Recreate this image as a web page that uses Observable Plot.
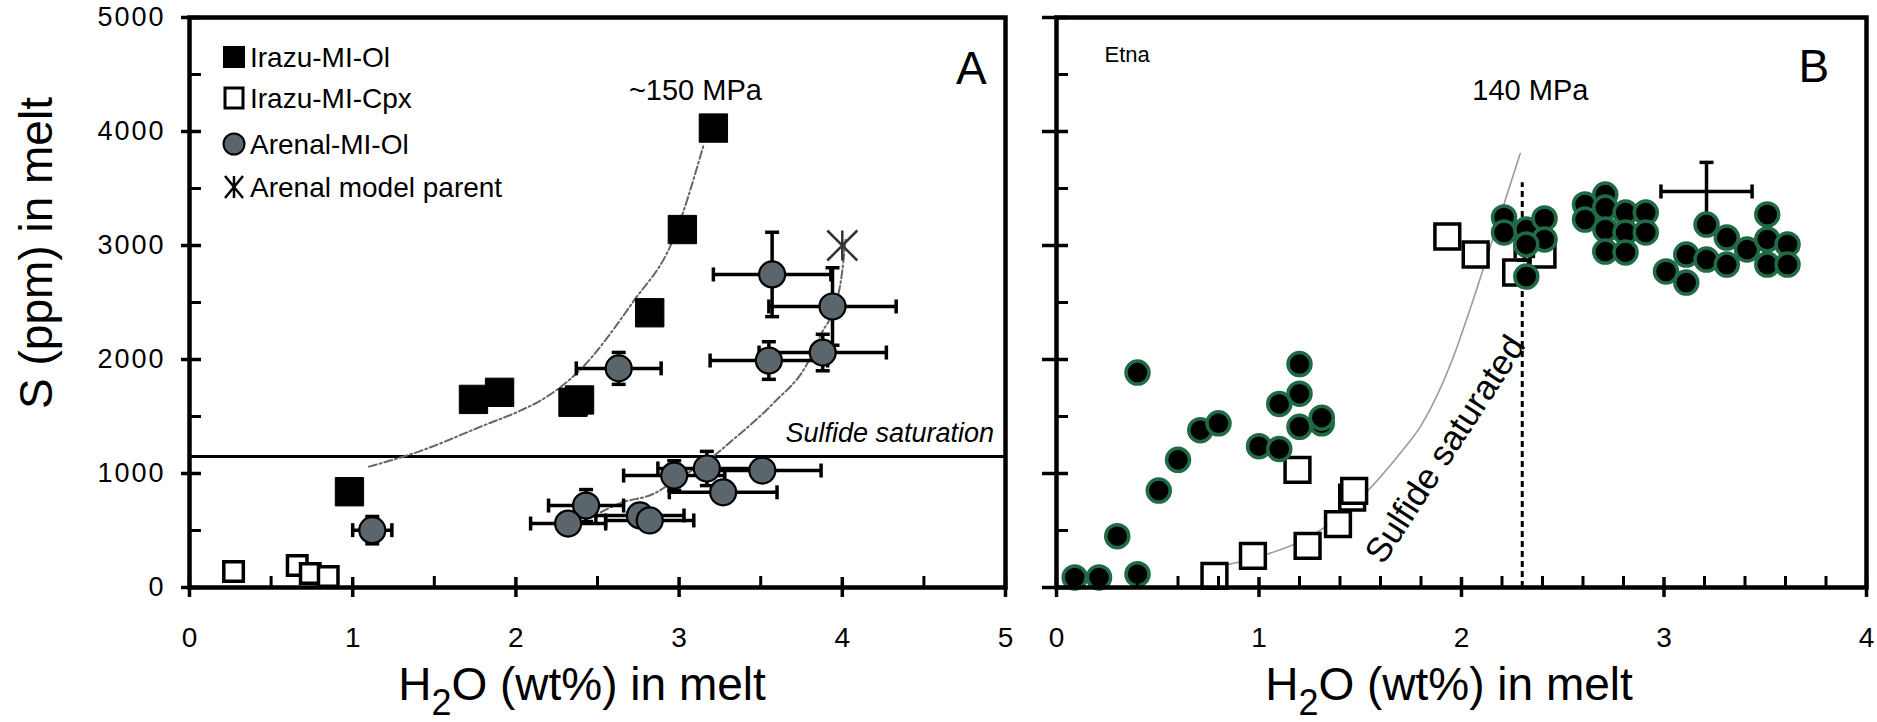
<!DOCTYPE html>
<html><head><meta charset="utf-8">
<script src="https://cdn.jsdelivr.net/npm/d3@7"></script>
<script src="https://cdn.jsdelivr.net/npm/@observablehq/plot@0.6"></script>
<style>
body{margin:0;background:#fff;}
#wrap{position:relative;width:1877px;height:722px;overflow:hidden;font-family:"Liberation Sans",Arial,sans-serif;}
#wrap > svg{position:absolute;top:0;}
#panelA g[aria-label="y-axis tick label"] text{letter-spacing:2px}
</style></head><body><div id="wrap"></div><script>
// ---------- data (H2O wt%, S ppm) ----------
const irazuMIOl = [[3.21,4030],[3.02,3140],[2.82,2410],[1.74,1650],[1.90,1712],[2.35,1625],[2.39,1645],[0.98,840]];
const irazuMICpx = [[0.27,141],[0.66,194],[0.74,123],[0.85,97]];
// [H2O, S, H2O error, S error]
const arenalMIOl = [
  [3.57,2746,0.36,370],[3.94,2465,0.39,340],[3.88,2061,0.39,160],[3.55,1991,0.36,165],
  [2.63,1922,0.26,140],[1.12,503,0.12,120],[2.97,982,0.31,130],[3.17,1044,0.30,150],
  [3.51,1026,0.36,60],[3.27,835,0.33,60],[2.43,719,0.23,140],[2.32,561,0.23,60],
  [2.76,632,0.27,60],[2.82,588,0.27,90]
];
const arenalModelParent = [[4.0,3000]];
const irazuCurve150MPa = [[1.1,1060],[1.4,1190],[1.8,1420],[2.03,1553],[2.14,1631],[2.38,1890],[2.72,2510],[2.96,3040],[3.15,3880]];
const arenalCurve = [[2.52,660],[2.64,740],[2.84,820],[3.0,960],[3.18,1120],[3.35,1320],[3.58,1620],[3.78,1950],[3.88,2250],[3.94,2410],[4.0,2780],[4.02,3050]];
const sulfideSaturationS = [1150];

const etnaOl = [
  [0.09,88],[0.21,88],[0.40,117],[0.40,1885],[0.30,450],[0.505,850],[0.60,1120],[0.71,1380],[0.80,1440],
  [1.0,1240],[1.10,1215],[1.10,1610],[1.20,1700],[1.20,1960],[1.20,1410],[1.31,1440],[1.31,1490],
  [2.21,3246],[2.21,3114],[2.32,3140],[2.41,3237],[2.41,3053],[2.32,3009],[2.32,2728],
  [2.61,3360],[2.61,3228],[2.71,3447],[2.71,3333],[2.71,3140],[2.71,2947],[2.81,3289],[2.81,3114],[2.81,2939],
  [2.91,3289],[2.91,3114],[3.01,2772],[3.11,2921],[3.11,2675],[3.21,3184],[3.21,2877],[3.31,3070],[3.31,2833],
  [3.41,2965],[3.51,3272],[3.51,3053],[3.51,2833],[3.61,3009],[3.61,2833]
];
const etnaCpx = [[0.78,102],[0.97,278],[1.24,365],[1.39,556],[1.46,789],[1.47,848],[1.19,1032],[1.93,3079],[2.07,2921],[2.27,2763],[2.40,2921]];
const etnaErrors = [[3.21,3474,0.225,255],[2.31,2950,0.045,80]];
const etnaCurve140MPa = [[0.79,180],[1.0,270],[1.245,440],[1.51,800],[1.70,1184],[1.80,1420],[1.955,2000],[2.03,2377],[2.19,3254],[2.29,3807]];
const etnaH2OLimit = [2.3];
const etnaLimitTopS = 3550;

// ---------- ticks ----------
const xTicksA = [0,1,2,3,4,5];
const xMinorA = [0.5,1.5,2.5,3.5,4.5];
const xTicksB = [0,1,2,3,4];
const xMinorB = [0.2,0.4,0.6,0.8,1.2,1.4,1.6,1.8,2.2,2.4,2.6,2.8,3.2,3.4,3.6,3.8];
const yTicks = [0,1000,2000,3000,4000,5000];
const yMinor = [500,1500,2500,3500,4500];

// ---------- helpers ----------
const FONT = '"Liberation Sans", Arial, sans-serif';
const segSym = (horizontal) => ({draw(ctx, size){const r=Math.sqrt(size/Math.PI); if(horizontal){ctx.moveTo(-r,0);ctx.lineTo(r,0);} else {ctx.moveTo(0,-r);ctx.lineTo(0,r);}}});
const capH = segSym(true), capV = segSym(false);
const starSym = {draw(ctx,size){const r=Math.sqrt(size/Math.PI); ctx.moveTo(-r,-r);ctx.lineTo(r,r);ctx.moveTo(r,-r);ctx.lineTo(-r,r);ctx.moveTo(0,-r);ctx.lineTo(0,r);}};
const X = d=>d[0], Y = d=>d[1];
const blank = () => "";

function errorBars(data, sw=3.5, cap=7){
  return [
    Plot.ruleY(data, {y: Y, x1: d=>d[0]-d[2], x2: d=>d[0]+d[2], stroke:"black", strokeWidth: sw}),
    Plot.ruleX(data, {x: X, y1: d=>d[1]-d[3], y2: d=>d[1]+d[3], stroke:"black", strokeWidth: sw}),
    Plot.dot(data, {x: d=>d[0]-d[2], y: Y, symbol: capV, r: cap, stroke:"black", strokeWidth: sw, fill:"none"}),
    Plot.dot(data, {x: d=>d[0]+d[2], y: Y, symbol: capV, r: cap, stroke:"black", strokeWidth: sw, fill:"none"}),
    Plot.dot(data, {x: X, y: d=>d[1]-d[3], symbol: capH, r: cap, stroke:"black", strokeWidth: sw, fill:"none"}),
    Plot.dot(data, {x: X, y: d=>d[1]+d[3], symbol: capH, r: cap, stroke:"black", strokeWidth: sw, fill:"none"})
  ];
}
function axes(xMaj, xMin, yMajTick, showYLabels){
  const m = [
    Plot.frame({stroke:"black", strokeWidth:4.5}),
    Plot.axisX(xMaj, {tickSize:20, dy:-10, strokeWidth:3.5, tickFormat:blank, label:null}),
    Plot.axisX(xMin, {tickSize:11, dy:-11, strokeWidth:3, tickFormat:blank, label:null}),
    Plot.axisY(yTicks, {tickSize:yMajTick, dx:12, strokeWidth:3.5, tickFormat:blank, label:null}),
    Plot.axisY(yMinor, {tickSize:12, dx:12, strokeWidth:3, tickFormat:blank, label:null}),
    Plot.axisX(xMaj, {tickSize:0, tickPadding:40, fontSize:28, label:null, tickFormat:d=>String(d)})
  ];
  if (showYLabels) m.push(Plot.axisY(yTicks, {tickSize:0, tickPadding:24, fontSize:27, label:null, tickFormat:d=>String(d)}));
  return m;
}

// ---------- Panel A ----------
const panelA = Plot.plot({
  width: 1030, height: 722,
  marginLeft: 189, marginRight: 25, marginTop: 17, marginBottom: 135,
  x: {domain:[0,5], label:null}, y: {domain:[0,5000], label:null},
  style: {fontFamily: FONT, color:"black", background:"transparent", overflow:"visible"},
  marks: [
    Plot.ruleY(sulfideSaturationS, {x1:0, x2:5, stroke:"black", strokeWidth:3}),
    Plot.line(irazuCurve150MPa, {x:X, y:Y, stroke:"#666", strokeWidth:2, strokeDasharray:"8,3,2,3", curve:"monotone-x"}),
    Plot.line(arenalCurve, {x:X, y:Y, stroke:"#666", strokeWidth:2, strokeDasharray:"8,3,2,3", curve:"monotone-x"}),
    ...errorBars(arenalMIOl),
    Plot.dot(irazuMICpx, {x:X, y:Y, symbol:"square", r:11, fill:"white", stroke:"black", strokeWidth:3.5}),
    Plot.dot(irazuMIOl, {x:X, y:Y, symbol:"square", r:16, fill:"black", stroke:"black", strokeWidth:1}),
    Plot.dot(arenalMIOl, {x:X, y:Y, r:13, fill:"#5b656c", stroke:"black", strokeWidth:2.2}),
    Plot.dot(arenalModelParent, {x:X, y:Y, symbol:starSym, r:15, fill:"none", stroke:"#333", strokeWidth:2.5}),
    Plot.text(["~150 MPa"], {x:3.10, y:4272, text:d=>d, fontSize:29, lineAnchor:"bottom"}),
    Plot.text(["A"], {x:4.79, y:4421, text:d=>d, fontSize:46, lineAnchor:"bottom"}),
    Plot.text(["Sulfide saturation"], {x:4.93, y:1272, text:d=>d, fontSize:27, fontStyle:"italic", textAnchor:"end", lineAnchor:"bottom"}),
    ...axes(xTicksA, xMinorA, 20, true)
  ]
});
panelA.id = "panelA"; panelA.style.left = "0px";

// ---------- Panel B ----------
const panelB = Plot.plot({
  width: 847, height: 722,
  marginLeft: 26, marginRight: 11, marginTop: 17, marginBottom: 135,
  x: {domain:[0,4], label:null}, y: {domain:[0,5000], label:null},
  style: {fontFamily: FONT, color:"black", background:"transparent", overflow:"visible"},
  marks: [
    Plot.line(etnaCurve140MPa, {x:X, y:Y, stroke:"#9a9a9a", strokeWidth:1.6, curve:"monotone-x"}),
    Plot.ruleX(etnaH2OLimit, {y1:0, y2:etnaLimitTopS, stroke:"black", strokeWidth:3, strokeDasharray:"6,4"}),
    Plot.dot(etnaCpx, {x:X, y:Y, symbol:"square", r:14, fill:"white", stroke:"black", strokeWidth:3.5}),
    ...errorBars(etnaErrors),
    Plot.dot(etnaOl, {x:X, y:Y, r:11.5, fill:"black", stroke:"#1e6b45", strokeWidth:3.5}),
    Plot.text(["Etna"], {x:0.237, y:4614, text:d=>d, fontSize:22, textAnchor:"start", lineAnchor:"bottom"}),
    Plot.text(["B"], {x:3.74, y:4430, text:d=>d, fontSize:46, lineAnchor:"bottom"}),
    Plot.text(["140 MPa"], {x:2.34, y:4272, text:d=>d, fontSize:29, lineAnchor:"bottom"}),
    Plot.text(["Sulfide saturated"], {x:1.92, y:1210, text:d=>d, fontSize:35, rotate:-57}),
    ...axes(xTicksB, xMinorB, 26, false)
  ]
});
panelB.id = "panelB"; panelB.style.left = "1030px";

const wrap = document.getElementById("wrap");
wrap.appendChild(panelA); wrap.appendChild(panelB);

// ---------- axis titles & legend (overlay) ----------
const ov = d3.select(wrap).append("svg").attr("width",1877).attr("height",722)
  .style("position","absolute").style("left","0px").style("top","0px")
  .attr("font-family", FONT);
function xTitle(cx){
  const t = ov.append("text").attr("x",cx).attr("y",700).attr("text-anchor","middle").attr("font-size",46);
  t.append("tspan").text("H");
  t.append("tspan").attr("dy",15).attr("font-size",36).text("2");
  t.append("tspan").attr("dy",-15).text("O (wt%) in melt");
}
xTitle(582); xTitle(1449);
ov.append("text").attr("transform","translate(52,253) rotate(-90)").attr("text-anchor","middle")
  .attr("font-size",46).text("S (ppm) in melt");

const legendItems = ["Irazu-MI-Ol","Irazu-MI-Cpx","Arenal-MI-Ol","Arenal model parent"];
const legendRows = [57,98,144,187];
const lg = ov.append("g");
legendItems.forEach((name,i)=>{
  const cy = legendRows[i], cx = 234;
  if (i===0) lg.append("rect").attr("x",cx-11).attr("y",cy-11).attr("width",22).attr("height",22).attr("fill","black");
  if (i===1) lg.append("rect").attr("x",cx-9).attr("y",cy-10).attr("width",18).attr("height",20).attr("fill","white").attr("stroke","black").attr("stroke-width",3);
  if (i===2) lg.append("circle").attr("cx",cx).attr("cy",cy).attr("r",10.5).attr("fill","#5b656c").attr("stroke","black").attr("stroke-width",2);
  if (i===3) lg.append("path").attr("d",`M${cx-9},${cy-11}L${cx+9},${cy+11}M${cx+9},${cy-11}L${cx-9},${cy+11}M${cx},${cy-11}L${cx},${cy+11}`).attr("stroke","black").attr("stroke-width",2.5).attr("fill","none");
  lg.append("text").attr("x",250).attr("y",cy+10).attr("font-size",28).text(name);
});
</script></body></html>
